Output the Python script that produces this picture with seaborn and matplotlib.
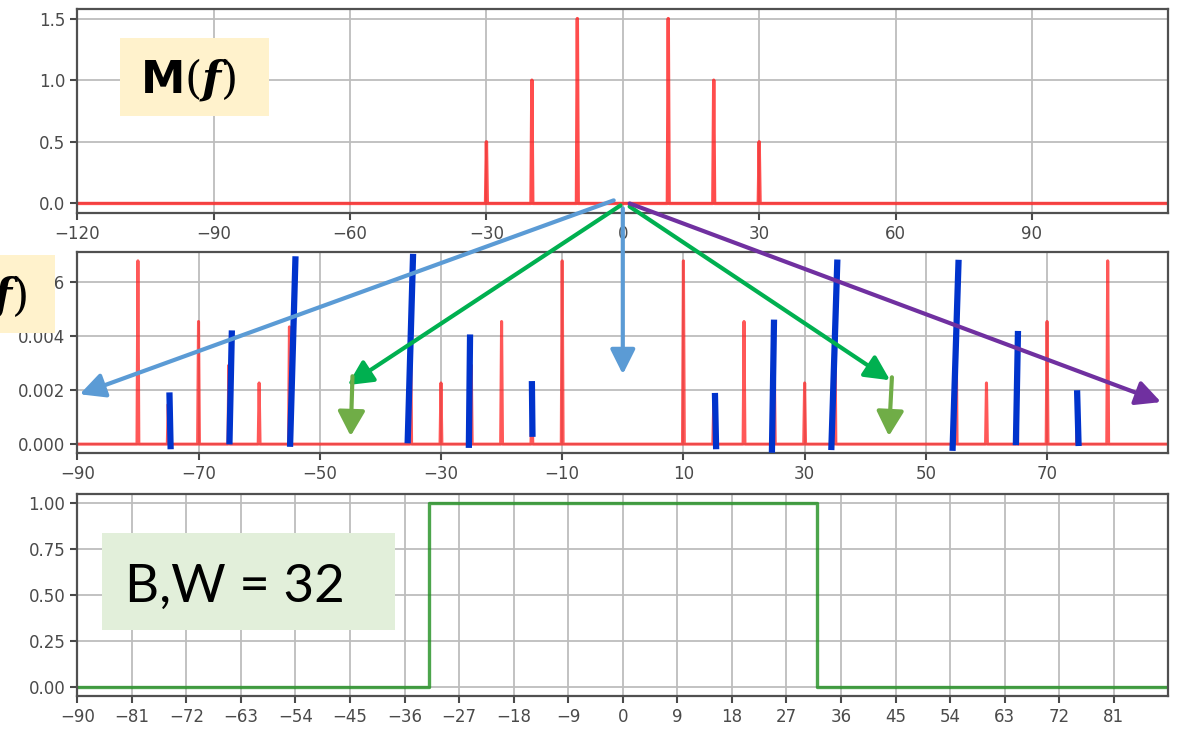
import numpy as np
import pandas as pd
import matplotlib
matplotlib.use("Agg")
import matplotlib.pyplot as plt
from matplotlib.patches import Rectangle, ConnectionPatch
from matplotlib.lines import Line2D
import seaborn as sns

# ---- message spectrum M(f) ----
msg_freqs = [-30, -20, -10, 10, 20, 30]
msg_amps = [0.5, 1.0, 1.5, 1.5, 1.0, 0.5]

# ---- spectrum after the nonlinearity ----
harm_freqs = [-80, -70, -60, -30, -20, -10, 10, 20, 30, 60, 70, 80]
harm_amps = [0.0068, 0.00455, 0.00227, 0.00227, 0.00455, 0.0068,
             0.0068, 0.00455, 0.00227, 0.00227, 0.00455, 0.0068]
side_freqs = [-75, -65, -55, -35, -25, -15, 15, 25, 35, 55, 65, 75]
side_amps = [0.00148, 0.00293, 0.00435, 0.00435, 0.00293, 0.00148,
             0.00148, 0.00293, 0.00435, 0.00435, 0.00293, 0.00148]

# ---- ideal band-pass filter ----
band_edges = [-32, 32]
band_gain = 1.0

# hand-drawn strokes marking the shifted copies of M(f): (x0, y0, x1, y1)
stroke_x0 = [-74.6, -64.9, -54.9, -35.5, -25.4, -14.9, 15.4, 24.6, 34.4, 54.4, 64.85, 75.2]
stroke_y0 = [-0.00019, -0.00001, -0.0001, 0.00003, -0.00014, 0.00027,
             -0.00019, -0.00032, -0.00022, -0.00025, -0.00004, -0.00007]
stroke_x1 = [-74.8, -64.5, -54.0, -34.6, -25.2, -15.0, 15.2, 24.95, 35.4, 55.4, 65.2, 74.95]
stroke_y1 = [0.00192, 0.00422, 0.00697, 0.00706, 0.00407, 0.00234,
             0.00190, 0.00462, 0.00685, 0.00684, 0.0042, 0.0020]


def spike_line(freqs, amps, lo, hi, hw):
    """Polyline for a line spectrum: zero baseline with a narrow spike per component."""
    order = np.argsort(freqs)
    xs, ys = [lo], [0.0]
    for i in order:
        f, a = freqs[i], amps[i]
        xs += [f - hw, f, f + hw]
        ys += [0.0, a, 0.0]
    xs.append(hi)
    ys.append(0.0)
    return pd.DataFrame({"f": xs, "amp": ys})


sns.set_theme(style="ticks", rc={
    "axes.edgecolor": "#505050",
    "axes.linewidth": 1.6,
    "grid.color": "#bdbdbd",
    "grid.linewidth": 1.3,
})
plt.rcParams["font.family"] = ["DejaVu Sans"]
plt.rcParams["mathtext.fontset"] = "custom"
plt.rcParams["mathtext.bf"] = "DejaVu Sans:bold"
plt.rcParams["mathtext.rm"] = "DejaVu Serif"
plt.rcParams["mathtext.bfit"] = "DejaVu Serif:italic:bold"

W, H = 1180, 730
fig = plt.figure(figsize=(W / 100, H / 100), dpi=100)
fig.patch.set_facecolor("white")


def fx(px):
    return px / W


def fy(py):
    return 1 - py / H


left, right = 77.3, 1168.3
ax1 = fig.add_axes([fx(left), fy(212.7), (right - left) / W, (212.7 - 9.3) / H])
ax2 = fig.add_axes([fx(left), fy(453.3), (right - left) / W, (453.3 - 251.7) / H])
ax3 = fig.add_axes([fx(left), fy(696.0), (right - left) / W, (696.0 - 494.0) / H])

red = "#ff2020"
# top: message spectrum
d1 = spike_line(msg_freqs, msg_amps, -120, 120, 0.2)
sns.lineplot(data=d1, x="f", y="amp", ax=ax1, color=red, alpha=0.8, lw=2.4,
             sort=False, estimator=None)
ax1.set_xlim(-120, 120)
ax1.set_xticks(np.arange(-120, 120, 30))
ax1.set_yticks([0.0, 0.5, 1.0, 1.5])
ax1.yaxis.set_major_formatter(matplotlib.ticker.FormatStrFormatter("%.1f"))

# middle: full spectrum
d2 = spike_line(harm_freqs + side_freqs, harm_amps + side_amps, -90, 90, 0.15)
sns.lineplot(data=d2, x="f", y="amp", ax=ax2, color=red, alpha=0.75, lw=2.2,
             sort=False, estimator=None)
ax2.set_xlim(-90, 90)
ax2.set_xticks(np.arange(-90, 90, 20))
ax2.set_yticks([0.0, 0.002, 0.004, 0.006])
ax2.yaxis.set_major_formatter(matplotlib.ticker.FormatStrFormatter("%.3f"))
for x0, y0, x1, y1 in zip(stroke_x0, stroke_y0, stroke_x1, stroke_y1):
    ax2.add_line(Line2D([x0, x1], [y0, y1], color="#0033cc", lw=4.5,
                        solid_capstyle="butt", zorder=5, clip_on=False))

# bottom: band-pass filter
lo, hi = band_edges
d3 = pd.DataFrame({"f": [-90, lo, lo, hi, hi, 90],
                   "gain": [0, 0, band_gain, band_gain, 0, 0]})
sns.lineplot(data=d3, x="f", y="gain", ax=ax3, color="#1f8f1f", alpha=0.8, lw=2.4,
             sort=False, estimator=None)
ax3.set_xlim(-90, 90)
ax3.set_xticks(np.arange(-90, 90, 9))
ax3.set_yticks([0.0, 0.25, 0.5, 0.75, 1.0])
ax3.yaxis.set_major_formatter(matplotlib.ticker.FormatStrFormatter("%.2f"))

for ax in (ax1, ax2, ax3):
    ax.set_axisbelow(True)
    ax.grid(True)
    ax.set_xlabel("")
    ax.set_ylabel("")
    ax.tick_params(labelsize=12, colors="#4a4a4a", length=5, width=1.5)
    for s in ax.spines.values():
        s.set_visible(True)

# arrows from the origin of M(f) to the copies in the middle spectrum
arrows = [
    ((-2.0, 0.025), (-89.6, 0.00185), "#5b9bd5"),
    ((0.0, -0.04), (0.0, 0.00259), "#5b9bd5"),
    ((-0.5, -0.016), (-45.4, 0.00219), "#00b050"),
    ((1.5, -0.025), (44.1, 0.00237), "#00b050"),
    ((1.5, 0.0), (88.8, 0.00156), "#7030a0"),
]
for a, b, c in arrows:
    cp = ConnectionPatch(a, b, coordsA=ax1.transData, coordsB=ax2.transData,
                         arrowstyle="-|>,head_length=1.0,head_width=0.5",
                         mutation_scale=15, color=c, lw=3, shrinkA=0, shrinkB=0,
                         zorder=6)
    fig.add_artist(cp)
for a, b in [((-44.6, 0.00252), (-44.9, 0.0003)), ((44.4, 0.00248), (43.9, 0.0003))]:
    cp = ConnectionPatch(a, b, coordsA=ax2.transData, coordsB=ax2.transData,
                         arrowstyle="-|>,head_length=1.0,head_width=0.55",
                         mutation_scale=15, color="#70ad47", lw=3, shrinkA=0, shrinkB=0,
                         zorder=6)
    fig.add_artist(cp)

# label boxes
def label_box(x0, y0, x1, y1, color):
    fig.add_artist(Rectangle((fx(x0), fy(y1)), (x1 - x0) / W, (y1 - y0) / H,
                             transform=fig.transFigure, facecolor=color,
                             edgecolor="none", zorder=7))

label_box(120, 38, 269, 116, "#fff2cc")
fig.text(fx(140), fy(93), r"$\mathbf{M}(\mathbfit{f})$", fontsize=32,
         ha="left", va="baseline", color="black", zorder=8)

label_box(-100, 255, 55, 332.7, "#fff2cc")
fig.text(fx(28), fy(310), r"$\mathbf{X}(\mathbfit{f})$", fontsize=32,
         ha="right", va="baseline", color="black", zorder=8)

label_box(102, 533, 395, 630, "#e2efda")
fig.text(fx(125), fy(602), "B,W = 32", fontsize=38, family=["Lato", "DejaVu Sans"],
         ha="left", va="baseline", color="black", zorder=8)

fig.savefig("out.png", dpi=100, facecolor="white")
